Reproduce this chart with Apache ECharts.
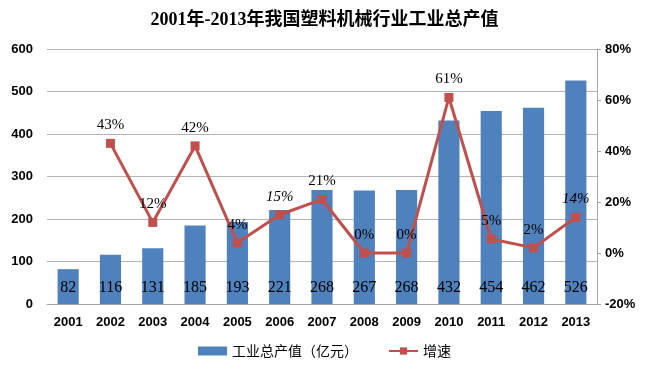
<!DOCTYPE html>
<html><head><meta charset="utf-8">
<script src="https://cdn.jsdelivr.net/npm/echarts@6/dist/echarts.min.js"></script>
<style>html,body{margin:0;padding:0;background:#fff}#c{width:649px;height:367px}</style>
</head><body><div id="c"></div>
<script>
const years = ['2001','2002','2003','2004','2005','2006','2007','2008','2009','2010','2011','2012','2013'];
const outputValues = [82,116,131,185,193,221,268,267,268,432,454,462,526];
const growthValues = [null,43,12,42,4,15,21,0,0,61,5.5,2,14];
const growthLabels = ['','43%','12%','42%','4%','15%','21%','0%','0%','61%','5%','2%','14%'];
const italicYears = ['2006','2013'];
const leftTicks = [0,100,200,300,400,500,600];
const rightTicks = [-20,0,20,40,60,80];

const serif = "'Liberation Serif','Times New Roman','Noto Sans CJK SC',serif";
const axisFont = "'Liberation Sans','Noto Sans CJK SC',sans-serif";

const chart = echarts.init(document.getElementById('c'), null, {renderer:'canvas'});
chart.setOption({
  animation:false,
  title:{text:'2001年-2013年我国塑料机械行业工业总产值',left:'center',top:6,
    textStyle:{fontFamily:serif,fontWeight:'bold',fontSize:18,color:'#000'}},
  grid:{left:47,right:52,top:49,bottom:63},
  legend:{bottom:4,left:'center',itemGap:30,itemWidth:29,itemHeight:9,
    textStyle:{fontFamily:"'Noto Sans CJK SC',sans-serif",fontSize:14,color:'#000'},
    data:[{name:'工业总产值（亿元）',icon:'rect'},{name:'增速'}]},
  xAxis:{type:'category',data:years,
    axisLine:{lineStyle:{color:'#a6a6a6',width:1}},axisTick:{show:false},
    axisLabel:{fontFamily:axisFont,fontWeight:'bold',fontSize:13,color:'#000',margin:12}},
  yAxis:[
    {type:'value',min:leftTicks[0],max:leftTicks[leftTicks.length-1],interval:100,
     axisLine:{show:false},axisTick:{show:false},
     splitLine:{lineStyle:{color:'#b3b3b3',width:1}},
     axisLabel:{fontFamily:axisFont,fontWeight:'bold',fontSize:13,color:'#000',margin:14}},
    {type:'value',min:rightTicks[0],max:rightTicks[rightTicks.length-1],interval:20,
     axisLine:{show:true,lineStyle:{color:'#a6a6a6'}},
     axisTick:{show:true,length:4,lineStyle:{color:'#a6a6a6'}},
     splitLine:{show:false},
     axisLabel:{fontFamily:axisFont,fontWeight:'bold',fontSize:13,color:'#000',margin:8,
       formatter:v=>v+'%'}}
  ],
  series:[
    {name:'工业总产值（亿元）',type:'bar',barWidth:'50%',yAxisIndex:0,
     itemStyle:{color:'#4F81BD'},
     data:outputValues,
     label:{show:true,position:'insideBottom',distance:8,
       fontFamily:serif,fontSize:16,color:'#000'}},
    {name:'增速',type:'line',yAxisIndex:1,symbol:'rect',symbolSize:9,
     lineStyle:{color:'#C0504D',width:3},itemStyle:{color:'#C0504D'},
     data:growthValues.map((v,i)=>({value:v,
       label:{fontStyle: italicYears.includes(years[i]) ? 'italic':'normal'}})),
     label:{show:true,position:'top',distance:6,fontFamily:serif,fontSize:15,color:'#000',
       formatter:p=>growthLabels[p.dataIndex]}}
  ]
});
</script></body></html>
